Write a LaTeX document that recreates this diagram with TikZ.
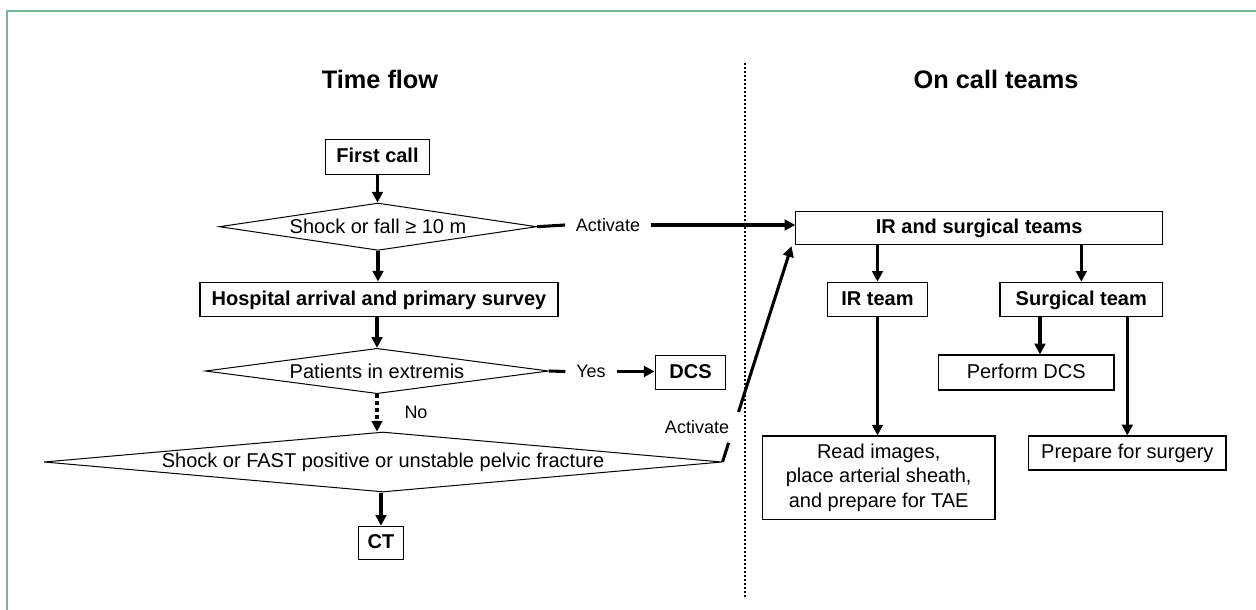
\documentclass[tikz,border=0pt]{standalone}
\usepackage{fontspec}
\setmainfont{Liberation Sans}
\usetikzlibrary{shapes.geometric,arrows.meta,calc}
\definecolor{framegreen}{RGB}{110,185,150}
\begin{document}
\begin{tikzpicture}[x=0.75pt,y=-0.75pt,
  box/.style={draw, line width=0.9pt, inner sep=0pt, text height=11.5pt, text depth=3pt, font=\fontsize{15}{18}\selectfont\bfseries},
  pbox/.style={box, font=\fontsize{15}{18}\selectfont},
  rbox/.style={draw, line width=0.9pt, inner sep=0pt, align=center, font=\fontsize{15}{18.5}\selectfont},
  dia/.style={draw, diamond, line width=0.75pt, inner sep=0pt},
  dtext/.style={font=\fontsize{15}{18}\selectfont, inner sep=0pt},
  lab/.style={font=\fontsize{13.5}{15}\selectfont, inner xsep=8pt, inner ysep=2pt},
  arr/.style={line width=2.3pt, -{Triangle[length=8pt,width=8pt]}},
  thk/.style={line width=2.3pt},
  title/.style={font=\fontsize{19}{22}\selectfont\bfseries, anchor=base, inner sep=0pt}
]
\fill[white] (0,0) rectangle (1256,610);
\useasboundingbox (0,0) rectangle (1256,610);
\draw[framegreen, line width=1.5pt] (6.5,610) -- (6.5,11.5) -- (1256,11.5);

% titles and divider
\node[title] (t1) at (380,89) {Time flow};
\node[title] (t2) at (996,89) {On call teams};
\draw[line width=1.9pt, dash pattern=on 1.5pt off 1.5pt] (745,63) -- (745,597);

% left column
\node[box, minimum width=78pt, minimum height=26pt] (fc) at (377.5,157) {First call};
\node[dia, minimum width=238pt, minimum height=35.5pt] (d1) at (378,226.7) {};
\node[dtext] (d1t) at (d1) {Shock or fall ≥ 10 m};
\node[box, minimum width=268.5pt, minimum height=26pt] (hosp) at (379,299.5) {Hospital arrival and primary survey};
\node[dia, minimum width=257.5pt, minimum height=34pt] (d2) at (377,371) {};
\node[dtext] (d2t) at (d2) {Patients in extremis};
\node[dia, minimum width=508.5pt, minimum height=45pt] (d3) at (383,462) {};
\node[dtext] (d3t) at (d3) {Shock or FAST positive or unstable pelvic fracture};
\node[box, minimum width=34pt, minimum height=25pt] (ct) at (381,543) {CT};
\node[box, minimum width=53pt, minimum height=26pt] (dcs) at (690.5,372.5) {DCS};

\node[lab] (act1) at (608,225) {Activate};
\node[lab] (yes) at (591,371.5) {Yes};
\node[lab] (no) at (416,412) {No};
\node[lab] (act2) at (697,427) {Activate};

% right column
\node[box, minimum width=275pt, minimum height=24.5pt] (teams) at (979.2,228) {IR and surgical teams};
\node[box, minimum width=75.3pt, minimum height=25.8pt] (ir) at (877.5,299.5) {IR team};
\node[box, minimum width=122pt, minimum height=25.8pt] (surg) at (1081.3,299.5) {Surgical team};
\node[pbox, minimum width=131.8pt, minimum height=26.25pt] (pdcs) at (1026.2,372.5) {Perform DCS};
\node[rbox, minimum width=174.5pt, minimum height=62.5pt] (read) at (878.7,477.7) {Read images,\\place arterial sheath,\\and prepare for TAE};
\node[pbox, minimum width=148pt, minimum height=25.5pt] (prep) at (1127.3,453) {Prepare for surgery};

% connectors left
\draw[arr] (fc.south) -- (fc.south |- d1.north);
\draw[arr] (d1.south) -- (d1.south |- hosp.north);
\draw[arr] (d2.north |- hosp.south) -- (d2.north);
\draw[arr, dash pattern=on 3pt off 2.2pt] (d2.south) -- (d2.south |- d3.north);
\draw[arr] (ct.north |- d3.south) -- (ct.north);
\draw[thk] (d1.east) -- (act1.west);
\draw[arr] (act1.east) -- (act1.east -| teams.west);
\draw[thk] (d2.east) -- (yes.west);
\draw[arr] (yes.east) -- (yes.east -| dcs.west);

\coordinate (tgt) at ([xshift=-2.8pt, yshift=-0.9pt]teams.south west);
\coordinate (c1) at ($(d3.east)!0.089!(tgt)$);
\coordinate (c2) at ($(d3.east)!0.232!(tgt)$);
\draw[thk] (d3.east) -- (c1);
\draw[arr] (c2) -- (tgt);

% connectors right
\draw[arr] (ir.north |- teams.south) -- (ir.north);
\draw[arr] (surg.north |- teams.south) -- (surg.north);
\draw[arr] (ir.south) -- (ir.south |- read.north);
\draw[arr] ([xshift=-31pt]surg.south) -- ([xshift=-31pt]surg.south |- pdcs.north);
\draw[arr] (prep.north |- surg.south) -- (prep.north);
\end{tikzpicture}
\end{document}
